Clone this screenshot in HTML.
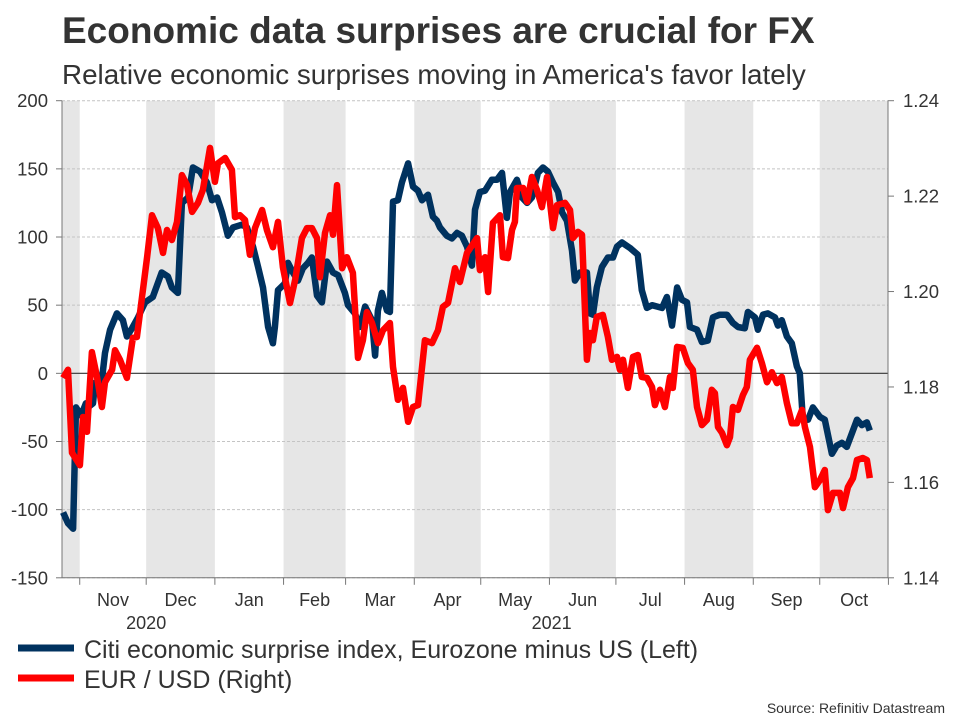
<!DOCTYPE html>
<html><head><meta charset="utf-8"><style>
body{margin:0;background:#fff;font-family:"Liberation Sans",sans-serif;}
svg{display:block}
</style></head><body>
<svg id="chart" width="960" height="720" viewBox="0 0 960 720" xmlns="http://www.w3.org/2000/svg">
<text x="62" y="43" font-size="37" font-weight="bold" fill="#333">Economic data surprises are crucial for FX</text>
<text x="62" y="84" font-size="27.8" fill="#333">Relative economic surprises moving in America's favor lately</text>
<g id="bands"></g>
<g id="grid"></g>
<g id="axes"></g>
<g id="series"></g>
<g>
<line x1="18" y1="648" x2="74" y2="648" stroke="#00325f" stroke-width="7"/>
<text x="84" y="658" font-size="25" fill="#333">Citi economic surprise index, Eurozone minus US (Left)</text>
<line x1="18" y1="678" x2="74" y2="678" stroke="#ff0000" stroke-width="7"/>
<text x="84" y="688" font-size="25" fill="#333">EUR / USD (Right)</text>
</g>
<text x="945" y="713" font-size="14" fill="#333" text-anchor="end">Source: Refinitiv Datastream</text>
</svg>
<script>
// days since 24 Oct 2020
const citiDays=[0.5,2.7,5,6.3,8.6,10.8,11.7,14,14.9,18,19.4,21.7,24.8,27.5,29.3,31.6,34.3,37.5,41,45,47.8,49.6,52.3,54.1,56.9,59.1,62.3,65.4,67.7,70,72.2,74.9,77.2,81.2,83.5,86.2,88.5,90.7,93,95.2,96.1,97.5,100.6,102,104.2,106.5,108.7,111,112.8,115.1,117.3,119.6,122.3,124.6,127.7,129.1,132.2,134.5,136.8,139.9,141.3,142.6,144.4,146.7,148,149.4,151.6,153.4,156.2,158.4,160.7,162.5,165.2,167.4,169.2,170.6,173.7,176,178.3,180.5,182.8,185,186.4,188.6,190.9,194,196.3,198.6,200.8,202.2,205.3,207.6,209.9,212.1,214.8,217.1,219.3,221.6,223.9,225.7,227.9,230.2,231.5,233.8,236.9,238.3,239.6,241.4,243.7,246.4,248.7,250.5,252.7,256.3,259.9,261.7,264,266.3,268.5,270.8,273,275.3,277.6,279.8,282.1,283.4,286.6,288.8,291.5,293.8,296.9,300.1,302.8,305.1,308.2,309.6,312.8,314.1,316.4,318.6,321.8,323.1,324.9,327.2,329.4,331.7,333,334.4,336.7,338.9,342.1,344.3,347.5,349.7,352,354.2,356.5,358.8,361,363.3,364.6];
const citiValues=[-102,-110,-114,-25,-31,-22,-25,-22,-7,-5,15,32,44,39,27,33,41,52,56,74,71,63,59,125,129,151,148,140,127,129,118,101,107,109,107,93,78,63,34,22,34,61,66,81,74,68,77,81,85,57,52,82,74,72,59,50,44,34,49,39,13,46,59,46,45,126,127,140,154,137,134,127,131,115,112,107,101,99,103,101,93,79,120,133,134,142,142,147,114,133,142,129,125,129,147,151,148,140,133,118,112,90,68,74,74,44,43,63,78,85,85,93,96,92,87,61,48,50,49,48,56,35,63,54,52,34,32,23,24,41,43,43,37,34,33,45,41,32,43,44,41,35,39,27,22,5,0,-34,-34,-25,-32,-34,-59,-53,-51,-54,-44,-34,-38,-36,-42];
const fxDays=[0.5,2.7,4.5,8.1,9.5,11.3,13.5,15.8,18,19.4,22.6,23.9,26.2,29.3,32,33.8,35.2,38.4,40.6,43.3,45.6,47.4,49.6,51.9,54.1,56.4,58.7,61.4,63.6,66.8,69,70.4,73.6,76.7,78.1,80.3,82.6,84.8,87.1,90.3,92.5,95.2,97.5,99.7,102.9,105.2,108.3,110.6,112.8,115.1,116.4,118.7,121,122.3,124.1,126.4,128.6,131.3,133.6,135.8,137.6,139.9,142.6,144.9,148,149.4,151.6,153.9,156.2,158.4,160.7,163.8,167,169.7,171.9,174.2,177.4,179.6,182.8,187.3,188.6,190.9,192.3,194.5,197.7,199,201.3,203.1,204.4,205.3,208.1,209.9,212.1,214.4,216.6,218.9,221.6,223.4,227,229.3,230.6,232.9,234.7,236.9,238.3,239.6,241.4,244.1,246.4,248.2,250.5,251.8,253.2,255.4,257.7,259.9,261.7,264,266.3,267.6,269.9,272.1,274.4,275.7,277.6,280.2,282.5,284.7,286.6,288.8,291.1,293.3,294.7,296.1,297.9,300.1,301.5,302.8,305.1,307.3,309.1,310.5,313.7,315.9,318.2,320.4,322.7,324.9,327.2,329.4,331.7,334,335.3,337.6,339.8,342.1,344.3,345.7,348,351.1,352.5,354.7,357,358.8,361.5,363.3,364.6];
const fxValues=[1.1819,1.1836,1.1662,1.1636,1.1737,1.1706,1.1873,1.1821,1.1758,1.1810,1.1836,1.1877,1.1857,1.1819,1.1903,1.1905,1.1955,1.2072,1.2160,1.2133,1.2081,1.2129,1.2108,1.2146,1.2244,1.2223,1.2167,1.2186,1.2213,1.2301,1.2230,1.2269,1.2280,1.2255,1.2156,1.2160,1.2150,1.2077,1.2133,1.2171,1.2129,1.2093,1.2146,1.2051,1.1976,1.2024,1.2112,1.2133,1.2133,1.2112,1.2030,1.2123,1.2160,1.2119,1.2223,1.2049,1.2072,1.2039,1.1861,1.1898,1.1957,1.1934,1.1892,1.1919,1.1934,1.1842,1.1773,1.1798,1.1727,1.1758,1.1762,1.1898,1.1892,1.1919,1.1968,1.1976,1.2049,1.2020,1.2081,1.2112,1.2045,1.2072,1.1999,1.2144,1.2160,1.2072,1.2070,1.2129,1.2146,1.2217,1.2217,1.2188,1.2240,1.2213,1.2177,1.2240,1.2133,1.2181,1.2186,1.2171,1.2112,1.2125,1.2119,1.1857,1.1913,1.1898,1.1947,1.1951,1.1905,1.1857,1.1863,1.1836,1.1857,1.1798,1.1863,1.1867,1.1821,1.1819,1.1800,1.1762,1.1794,1.1758,1.1821,1.1798,1.1884,1.1882,1.1850,1.1836,1.1758,1.1720,1.1731,1.1794,1.1787,1.1716,1.1704,1.1678,1.1695,1.1758,1.1752,1.1783,1.1800,1.1857,1.1882,1.1850,1.1810,1.1831,1.1808,1.1821,1.1766,1.1724,1.1724,1.1752,1.1716,1.1674,1.1590,1.1605,1.1626,1.1542,1.1578,1.1578,1.1546,1.1590,1.1609,1.1647,1.1651,1.1647,1.1609];
const leftTicks=[200,150,100,50,0,-50,-100,-150];
const rightTicks=[1.24,1.22,1.20,1.18,1.16,1.14];
const monthLabels=["Nov","Dec","Jan","Feb","Mar","Apr","May","Jun","Jul","Aug","Sep","Oct"];
const monthStarts=[8,38,69,100,128,159,189,220,250,281,312,342,373];
const yearLabels=["2020","2021"];
const yearDays=[38,221];

const X0=62,X1=888,Y0=100.7,Y1=577.8,PPD=2.2156;
const xs=d=>X0+d*PPD;
const yl=v=>Y0+(200-v)/350*(Y1-Y0);
const yr=v=>Y0+(1.24-v)/0.10*(Y1-Y0);
const NS="http://www.w3.org/2000/svg";
function mk(tag,parent,attrs){const e=document.createElementNS(NS,tag);for(const k in attrs)e.setAttribute(k,attrs[k]);parent.appendChild(e);return e;}
const bands=document.getElementById('bands'),grid=document.getElementById('grid'),axes=document.getElementById('axes'),series=document.getElementById('series');
const bstarts=[0].concat(monthStarts);
for(let i=0;i<bstarts.length-1;i+=2){
 const a=xs(bstarts[i]),b=Math.min(xs(bstarts[i+1]),X1);
 const r=mk('rect',bands,{x:a,y:Y0,width:b-a,height:Y1-Y0,fill:'#e6e6e6'});
 
 
}
leftTicks.forEach(v=>{
 const y=yl(v);
 const g=mk('line',grid,{x1:X0,x2:X1,y1:y,y2:y,stroke:v===0?'#333':'#c4c4c4','stroke-width':v===0?1.2:1,'stroke-dasharray':v===0?'':'3,2'});
 
 
 mk('line',axes,{x1:X0-6,x2:X0,y1:y,y2:y,stroke:'#777'});
 const t=mk('text',axes,{x:X0-14,y:y+6.5,'font-size':18.5,fill:'#333','text-anchor':'end'});
 t.textContent=v;
 
 
});
rightTicks.forEach(v=>{
 const y=yr(v);
 mk('line',axes,{x1:X1,x2:X1+6,y1:y,y2:y,stroke:'#777'});
 const t=mk('text',axes,{x:X1+15,y:y+6.5,'font-size':18.5,fill:'#333'});
 t.textContent=v.toFixed(2);
 
 
});
mk('line',axes,{x1:X0,x2:X0,y1:Y0,y2:Y1,stroke:'#777'});
mk('line',axes,{x1:X1,x2:X1,y1:Y0,y2:Y1,stroke:'#777'});
mk('line',axes,{x1:X0,x2:X1,y1:Y1,y2:Y1,stroke:'#777'});
monthStarts.forEach(d=>{const x=xs(d);if(x<=X1+1)mk('line',axes,{x1:x,x2:x,y1:Y1,y2:Y1+7,stroke:'#777'});});
monthLabels.forEach((m,i)=>{
 const t=mk('text',axes,{x:(xs(monthStarts[i])+xs(monthStarts[i+1]))/2,y:606,'font-size':18,fill:'#333','text-anchor':'middle'});
 t.textContent=m;
 
 
});
yearLabels.forEach((yv,i)=>{
 const t=mk('text',axes,{x:xs(yearDays[i]),y:629,'font-size':18,fill:'#333','text-anchor':'middle'});
 t.textContent=yv;
 
 
});
const pc=citiDays.map((d,i)=>xs(d).toFixed(1)+','+yl(citiValues[i]).toFixed(1)).join(' ');
const pf=fxDays.map((d,i)=>xs(d).toFixed(1)+','+yr(fxValues[i]).toFixed(1)).join(' ');
const l1=mk('polyline',series,{points:pc,fill:'none',stroke:'#00325f','stroke-width':6.5,'stroke-linejoin':'round'});


const l2=mk('polyline',series,{points:pf,fill:'none',stroke:'#ff0000','stroke-width':6.5,'stroke-linejoin':'round'});


</script>
</body></html>
